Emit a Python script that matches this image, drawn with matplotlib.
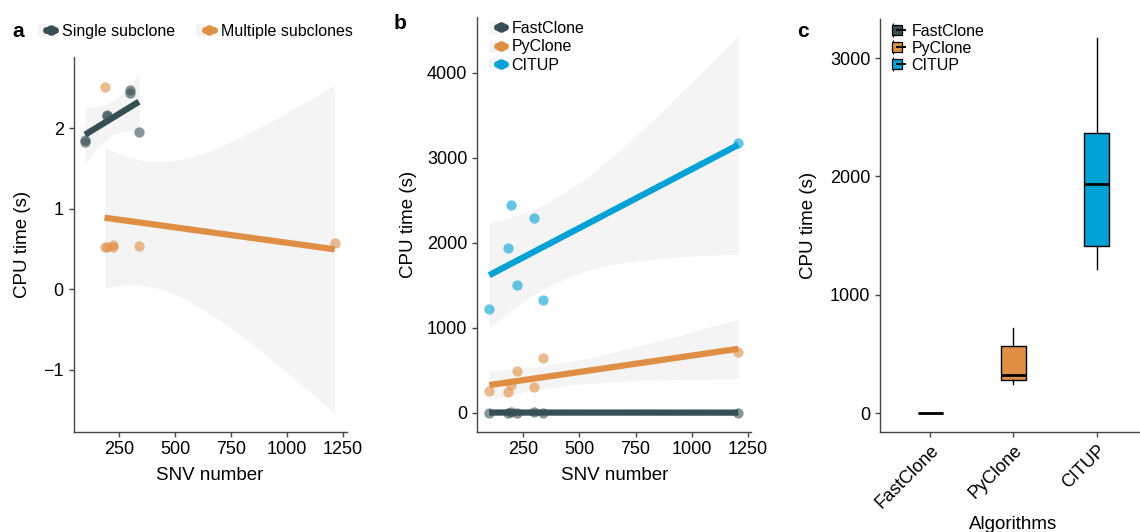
import numpy as np
import matplotlib
matplotlib.use('Agg')
import matplotlib.pyplot as plt
from matplotlib.patches import Patch
from matplotlib.lines import Line2D
from matplotlib.legend_handler import HandlerTuple

plt.rcParams['font.family'] = ['Liberation Sans', 'DejaVu Sans']

# panel a: FastClone cpu time by subclone structure
single_snv = [96, 96, 193, 193, 298, 298, 337]
single_time = [1.83, 1.86, 2.15, 2.17, 2.44, 2.47, 1.95]
multi_snv = [183, 183, 193, 223, 223, 337, 1212]
multi_time = [2.51, 0.52, 0.53, 0.55, 0.52, 0.54, 0.57]

# panel b: cpu time per algorithm against SNV number
snv = [99, 183, 196, 221, 298, 336, 1207]
fastclone_time = [1.85, 0.53, 2.16, 0.55, 2.45, 1.95, 0.57]
pyclone_time = [255, 247, 320, 491, 306, 647, 718]
citup_time = [1220, 1934, 2443, 1502, 2287, 1326, 3169]

algorithms = ['FastClone', 'PyClone', 'CITUP']
colors = ['#374E55', '#DF8F44', '#00A1D5']
ribbon_col = '#F4F4F4'
T95 = 2.5706  # t quantile, df = 5


def lm_band(x, y, n=80):
    """linear fit with 95% confidence band, like geom_smooth(method='lm')"""
    x = np.asarray(x, float)
    y = np.asarray(y, float)
    slope, intercept = np.polyfit(x, y, 1)
    res = y - (slope * x + intercept)
    s = np.sqrt((res ** 2).sum() / (len(x) - 2))
    sxx = ((x - x.mean()) ** 2).sum()
    grid = np.linspace(x.min(), x.max(), n)
    fit = slope * grid + intercept
    se = s * np.sqrt(1 / len(x) + (grid - x.mean()) ** 2 / sxx)
    return grid, fit, fit - T95 * se, fit + T95 * se


def style_axes(ax):
    for side in ['top', 'right']:
        ax.spines[side].set_visible(False)
    for side in ['left', 'bottom']:
        ax.spines[side].set_color('#444444')
        ax.spines[side].set_linewidth(1.0)
    ax.tick_params(direction='out', length=3.5, width=1.0, color='#444444',
                   labelsize=13, labelcolor='black')


def smooth_layer(ax, x, y, color, ribbons=True):
    grid, fit, lo, hi = lm_band(x, y)
    if ribbons:
        ax.fill_between(grid, lo, hi, color=ribbon_col, lw=0, zorder=1)
    ax.plot(grid, fit, color=color, lw=4.5, solid_capstyle='butt', zorder=3)
    ax.scatter(x, y, s=55, color=color, alpha=0.6, lw=0, zorder=4)


def key(color):
    return (Patch(facecolor=ribbon_col, edgecolor='none'),
            Line2D([], [], color=color, lw=5, marker='o', ms=6.5,
                   solid_capstyle='round'))


def box_key(color):
    # whisker, box, median
    return (Line2D([], [], lw=0, marker='|', ms=10, mew=0.9, color='black'),
            Line2D([], [], lw=0, marker='s', ms=7.5, mfc=color, mec='black', mew=0.9),
            Line2D([], [], lw=0, marker='_', ms=7.5, mew=1.4, color='black'))


fig = plt.figure(figsize=(11.4, 5.32), dpi=100)

# ---- a
ax_a = fig.add_axes([0.0645, 0.1885, 0.2395, 0.705])
smooth_layer(ax_a, single_snv, single_time, colors[0])
smooth_layer(ax_a, multi_snv, multi_time, colors[1])
ax_a.set_xlim(44.5, 1265.5)
ax_a.set_ylim(-1.77, 2.89)
ax_a.set_xticks([250, 500, 750, 1000, 1250])
ax_a.set_yticks([-1, 0, 1, 2])
ax_a.set_yticklabels(['\u22121', '0', '1', '2'])
ax_a.set_xlabel('SNV number', fontsize=13.5, labelpad=6)
ax_a.set_ylabel('CPU time (s)', fontsize=13.5, labelpad=9)
style_axes(ax_a)
ax_a.legend([key(colors[0]), key(colors[1])], ['Single subclone', 'Multiple subclones'],
            handler_map={tuple: HandlerTuple(ndivide=None)},
            loc='center left', bbox_to_anchor=(0.033, 0.941), bbox_transform=fig.transFigure,
            ncol=2, frameon=False, fontsize=11.5, handlelength=1.1, handleheight=0.9,
            handletextpad=0.45, columnspacing=1.3, borderpad=0, borderaxespad=0)

# ---- b
ax_b = fig.add_axes([0.4184, 0.1885, 0.2408, 0.779])
smooth_layer(ax_b, snv, citup_time, colors[2])
smooth_layer(ax_b, snv, pyclone_time, colors[1])
smooth_layer(ax_b, snv, fastclone_time, colors[0])
ax_b.set_xlim(44.5, 1265.5)
ax_b.set_ylim(-224, 4652)
ax_b.set_xticks([250, 500, 750, 1000, 1250])
ax_b.set_yticks([0, 1000, 2000, 3000, 4000])
ax_b.set_xlabel('SNV number', fontsize=13.5, labelpad=6)
ax_b.set_ylabel('CPU time (s)', fontsize=13.5, labelpad=7)
style_axes(ax_b)
ax_b.legend([key(c) for c in colors], algorithms,
            handler_map={tuple: HandlerTuple(ndivide=None)},
            loc='upper left', bbox_to_anchor=(0.429, 0.96), bbox_transform=fig.transFigure,
            frameon=False, fontsize=11.5, handlelength=1.0, handleheight=0.8,
            handletextpad=0.4, labelspacing=0.2, borderpad=0, borderaxespad=0)

# ---- c
ax_c = fig.add_axes([0.772, 0.1885, 0.234, 0.775])
bp = ax_c.boxplot([fastclone_time, pyclone_time, citup_time], positions=[1, 2, 3],
                  widths=0.3, patch_artist=True, showfliers=False, showcaps=False,
                  whis=1.5,
                  boxprops=dict(edgecolor='black', linewidth=1.0),
                  whiskerprops=dict(color='black', linewidth=1.0),
                  medianprops=dict(color='black', linewidth=2.0))
for patch, c in zip(bp['boxes'], colors):
    patch.set_facecolor(c)
ax_c.set_xlim(0.4, 3.6)
ax_c.set_ylim(-158, 3327)
ax_c.set_xticks([1, 2, 3])
ax_c.set_xticklabels(algorithms, rotation=45, ha='right', rotation_mode='anchor')
ax_c.set_yticks([0, 1000, 2000, 3000])
ax_c.set_xlabel('Algorithms', fontsize=13.5, labelpad=3)
ax_c.set_ylabel('CPU time (s)', fontsize=13.5, labelpad=9)
style_axes(ax_c)
ax_c.legend([box_key(c) for c in colors], algorithms,
            handler_map={tuple: HandlerTuple(ndivide=None)},
            loc='upper left', bbox_to_anchor=(0.782, 0.955), bbox_transform=fig.transFigure,
            frameon=False, fontsize=11.5, handlelength=0.75, handleheight=0.65,
            handletextpad=0.5, labelspacing=0.12, borderpad=0, borderaxespad=0)

# panel letters
for x, y, s in [(0.011, 0.94, 'a'), (0.345, 0.955, 'b'), (0.699, 0.94, 'c')]:
    fig.text(x, y, s, fontsize=15, fontweight='bold', va='center')

fig.savefig('out.png', dpi=100)
